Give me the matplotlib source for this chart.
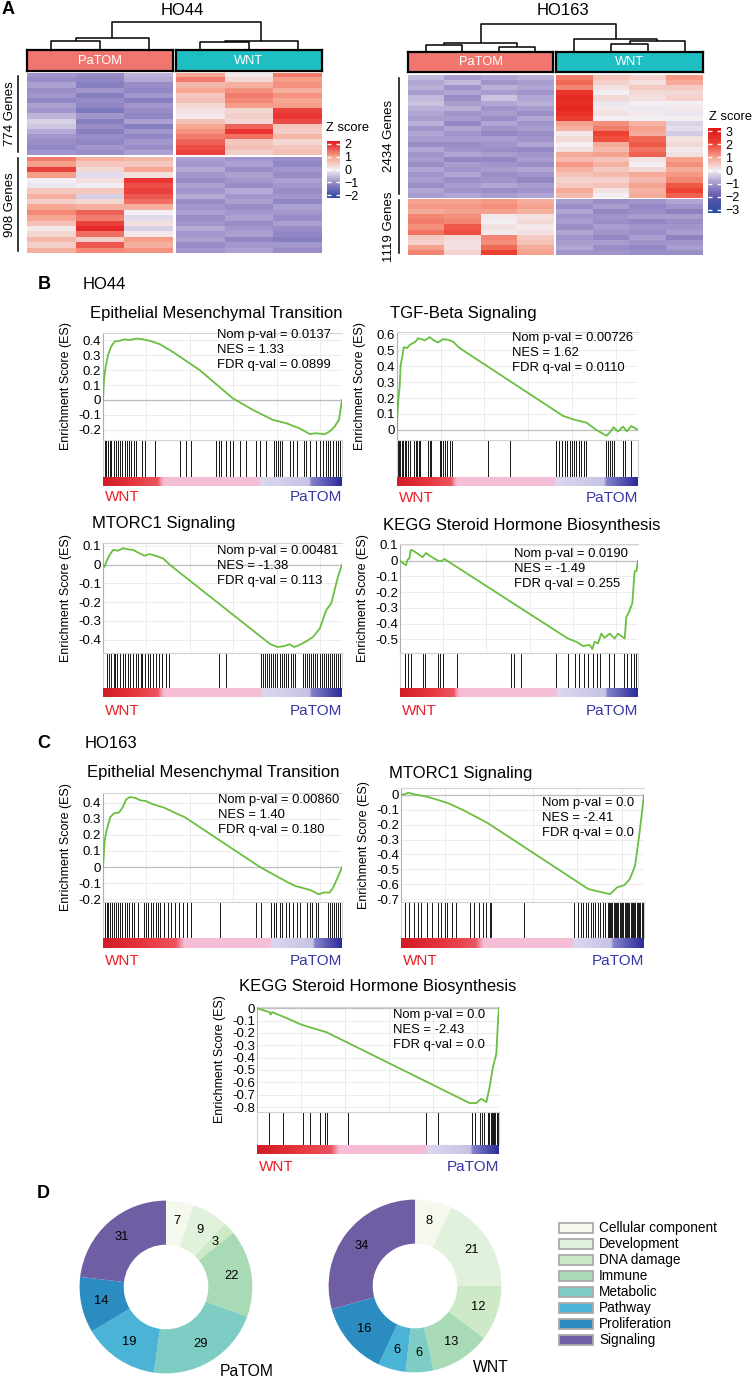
import numpy as np
import matplotlib.pyplot as plt
from matplotlib.colors import LinearSegmentedColormap, Normalize
from matplotlib.cm import ScalarMappable
from matplotlib.patches import Rectangle

plt.rcParams['font.family'] = ['Liberation Sans', 'DejaVu Sans']

# ---------------- A: heatmaps (z score per gene band, one list per sample) ----------------
ho44_genes = [774, 908]
ho44_up = [
    [-0.9, -1.0, -0.8, -1.0, -0.9, -1.1, -0.8, -0.9, -0.6, -0.3, -0.4, -0.7, -0.9, -1.0, -1.1, -0.9],
    [-1.0, -1.1, -1.2, -0.9, -1.2, -1.0, -1.1, -1.3, -0.9, -1.2, -1.0, -1.2, -1.0, -1.1, -0.9, -1.0],
    [-0.6, -0.7, -1.0, -1.1, -0.9, -1.2, -0.9, -1.0, -1.1, -0.8, -1.2, -0.9, -1.1, -0.9, -1.0, -0.8],
    [0.9, 1.3, 0.7, 0.9, 0.5, 0.6, 0.3, 0.2, 0.1, 0.6, 0.9, 1.1, 1.3, 1.5, 1.7, 1.8],
    [0.1, 0.3, 0.8, 1.1, 1.3, 1.2, 1.0, 0.3, 0.4, 0.3, 1.5, 1.9, 1.4, 0.5, 0.6, 0.4],
    [1.3, 1.0, 1.1, 0.8, 1.1, 0.9, 1.0, 1.8, 1.9, 1.7, 0.5, 0.4, 0.7, 0.3, 0.5, 0.6],
]
ho44_low = [
    [1.3, 1.0, 1.8, 1.0, 0.0, -0.1, 0.5, 0.8, 0.4, 0.9, 1.2, 0.9, 0.6, 0.1, 0.3, 0.7, 0.4, 0.8],
    [0.8, 0.5, 0.3, -0.2, 0.2, 0.0, 0.5, -0.3, 0.3, 0.8, 1.5, 1.3, 1.8, 2.0, 1.4, 0.4, 1.6, 1.2],
    [0.7, 0.5, 0.9, 0.2, 1.9, 1.7, 1.8, 1.6, 1.4, 0.8, 0.0, -0.2, 0.2, -0.3, 0.1, 1.0, 0.8, 1.1],
    [-0.8, -0.9, -0.7, -0.9, -1.0, -0.8, -0.9, -0.7, -1.0, -0.9, -0.8, -1.0, -0.9, -0.7, -0.9, -0.8, -1.0, -0.9],
    [-0.9, -0.8, -1.0, -0.8, -0.9, -1.0, -0.7, -0.9, -0.8, -1.0, -0.9, -0.8, -1.0, -0.9, -0.8, -1.1, -0.9, -0.8],
    [-1.0, -1.1, -0.9, -1.0, -0.8, -0.9, -1.0, -0.9, -1.1, -0.8, -0.9, -1.0, -0.8, -1.0, -1.1, -1.2, -0.9, -1.0],
]
ho163_genes = [2434, 1119]
ho163_up = [
    [-0.6, -0.8, -0.7, -0.9, -0.6, -0.5, -0.7, -0.8, -0.9, -0.7, -1.0, -0.8, -0.9, -1.1, -0.8, -1.0, -0.9, -1.1, -0.8, -1.0, -0.9, -1.1, -0.8, -0.9],
    [-0.9, -0.6, -1.0, -0.8, -1.1, -0.9, -0.7, -1.0, -0.9, -1.2, -0.8, -1.0, -0.9, -1.1, -1.0, -0.8, -1.2, -0.9, -1.0, -0.8, -1.1, -0.9, -1.0, -0.8],
    [-0.8, -1.0, -0.7, -0.9, -0.5, -0.8, -1.0, -0.9, -1.1, -0.8, -1.0, -1.2, -0.9, -1.0, -1.1, -0.9, -1.2, -1.0, -0.9, -1.1, -1.0, -0.8, -1.1, -0.9],
    [-0.7, -0.9, -0.8, -1.0, -0.8, -0.7, -0.9, -1.1, -0.8, -1.0, -0.9, -1.1, -1.0, -0.8, -1.2, -1.0, -0.9, -1.1, -0.8, -1.0, -1.2, -0.9, -1.0, -0.8],
    [1.4, 1.6, 1.3, 2.3, 2.6, 2.5, 2.7, 2.4, 2.2, 1.0, 0.8, 0.1, 0.3, 0.0, 0.2, 0.9, 0.7, 1.1, 0.8, 0.6, 0.4, 0.5, 0.9, 0.7],
    [0.6, 0.4, 0.2, 0.0, 0.3, -0.1, 0.1, 0.2, 0.0, 1.2, 1.4, 2.1, 1.9, 0.9, 0.7, 1.0, 0.6, 0.8, 0.5, 0.7, 0.4, 0.6, 0.2, 0.0],
    [0.4, 0.2, 0.5, 0.3, 0.2, 0.0, -0.1, 0.1, 0.0, 0.8, 1.0, 0.9, 1.6, 1.8, 1.5, 1.7, 0.2, 0.0, 0.3, 0.9, 0.7, 1.0, 0.8, 0.9],
    [1.1, 0.9, 0.5, 0.3, 0.4, 0.0, 0.1, -0.1, 0.0, -0.3, -0.2, -0.4, 0.2, 0.3, 0.1, 0.2, 1.0, 1.2, 0.9, 1.1, 1.3, 1.8, 2.0, 1.7],
]
ho163_low = [
    [1.0, 1.1, 0.9, 1.3, 1.4, 1.2, 1.5, 0.5, 0.4, 1.0, 1.3],
    [1.0, 1.1, 1.0, 1.2, 1.3, 1.8, 1.9, 0.3, 0.2, 0.2, 0.4],
    [1.1, 1.2, 1.0, 0.1, 0.0, 0.2, 0.1, 1.3, 1.2, 1.6, 2.1],
    [0.9, 1.0, 0.8, 0.2, 0.3, 0.1, 0.2, 0.5, 0.6, 0.9, 1.0],
    [-0.9, -1.1, -0.8, -1.0, -0.9, -1.1, -0.8, -1.0, -0.9, -0.8, -1.0],
    [-1.1, -0.9, -1.2, -1.0, -1.1, -0.9, -1.0, -1.2, -0.9, -1.1, -1.0],
    [-1.0, -1.2, -1.1, -0.9, -1.2, -1.0, -1.1, -0.9, -1.0, -1.2, -1.1],
    [-0.8, -1.0, -1.3, -0.9, -1.1, -1.0, -0.9, -1.3, -1.0, -0.9, -1.1],
]
# dendrogram merges (child a, child b, height in px)
ho44_links = [(0, 1, 9), (6, 2, 11.7), (3, 4, 7.7), (8, 5, 9.3), (7, 9, 28)]
ho163_links = [(0, 1, 6.7), (2, 3, 5), (8, 9, 9), (5, 6, 8.3), (11, 7, 11), (4, 12, 12.7), (10, 13, 28.3)]

# ---------------- B/C: GSEA running enrichment scores ----------------
emt44_rank = [0, .004, .011, .021, .035, .049, .07, .091, .112, .139, .167, .195, .237, .293, .404, .544, .628, .711, .767, .823, .865, .893, .927, .948, .969, .987, 1.0]
emt44_es = [0, .13, .22, .30, .36, .39, .395, .405, .40, .41, .405, .395, .373, .32, .20, .01, -.067, -.133, -.155, -.19, -.227, -.222, -.229, -.21, -.178, -.133, 0]
emt44_hits = [0, .007, .014, .021, .028, .035, .045, .053, .063, .07, .081, .091, .1, .109, .119, .128, .137, .165, .177, .216, .321, .349, .37, .474, .484, .495, .516, .53, .544, .572, .6, .642, .656, .683, .714, .725, .734, .742, .75, .781, .795, .812, .84, .851, .865, .893, .909, .921, .932, .941, .951, .962, .974, .983, .993, 1.0]
emt44_stats = ['Nom p-val = 0.0137', 'NES = 1.33', 'FDR q-val = 0.0899']

tgf44_rank = [0, .0014, .0055, .011, .015, .022, .028, .041, .053, .066, .077, .087, .101, .115, .136, .149, .17, .191, .212, .232, .26, .689, .73, .758, .786, .827, .869, .882, .899, .917, .938, .954, .972, 1.0]
tgf44_es = [0, .084, .188, .272, .408, .46, .519, .513, .533, .544, .554, .575, .569, .561, .582, .565, .548, .569, .565, .554, .513, .088, .067, .056, .046, 0, -.036, -.017, .017, -.01, .021, -.01, .025, 0]
tgf44_hits = [0, .004, .008, .014, .019, .025, .032, .039, .046, .053, .069, .077, .083, .091, .097, .128, .135, .142, .177, .184, .191, .2, .209, .218, .227, .378, .47, .661, .672, .686, .696, .705, .716, .726, .733, .744, .755, .765, .775, .783, .869, .876, .885, .894, .9, .938, .945, .972]
tgf44_stats = ['Nom p-val = 0.00726', 'NES = 1.62', 'FDR q-val = 0.0110']

mtorc44_rank = [0, .007, .014, .028, .042, .063, .084, .105, .126, .153, .174, .195, .223, .251, .279, .70, .73, .76, .78, .80, .82, .85, .879, .907, .934, .955, .969, .983, 1.0]
mtorc44_es = [0, -.011, .016, .052, .079, .075, .088, .082, .079, .061, .048, .057, .046, .034, 0, -.425, -.44, -.435, -.425, -.44, -.43, -.41, -.386, -.341, -.243, -.207, -.136, -.064, 0]
mtorc44_hits = [.015, .025, .035, .045, .052, .06, .072, .082, .092, .105, .115, .125, .138, .148, .158, .165, .175, .188, .198, .21, .222, .235, .248, .262, .275, .485, .515, .66, .668, .676, .686, .695, .704, .712, .72, .73, .74, .748, .757, .766, .776, .786, .796, .805, .835, .845, .855, .862, .87, .878, .888, .897, .906, .915, .924, .933, .942, .951, .96, .968, .976, .984, .992, 1.0]
mtorc44_stats = ['Nom p-val = 0.00481', 'NES = -1.38', 'FDR q-val = 0.113']

kegg44_rank = [0, .011, .025, .032, .039, .046, .06, .074, .095, .109, .123, .144, .158, .173, .187, .201, .705, .741, .769, .797, .808, .818, .832, .846, .86, .881, .902, .916, .944, .951, .962, .976, .986, .993, 1.0]
kegg44_es = [0, -.015, -.029, .006, .013, .069, .058, .044, .021, .048, .033, .013, 0, -.004, .01, -.004, -.494, -.515, -.542, -.535, -.56, -.515, -.525, -.463, -.49, -.463, -.494, -.463, -.494, -.358, -.327, -.271, -.067, -.067, 0]
kegg44_hits = [.02, .032, .045, .095, .105, .158, .168, .18, .24, .466, .48, .51, .654, .707, .737, .752, .774, .79, .81, .827, .842, .88, .9, .94, .955, .97, .985, .993]
kegg44_stats = ['Nom p-val = 0.0190', 'NES = -1.49', 'FDR q-val = 0.255']

emt163_rank = [0, .007, .015, .03, .045, .067, .082, .097, .112, .134, .157, .179, .209, .254, .284, .343, .657, .776, .806, .866, .903, .925, .948, .963, .978, .993, 1.0]
emt163_es = [0, .166, .227, .309, .333, .339, .37, .42, .435, .43, .414, .41, .39, .37, .349, .309, 0, -.097, -.118, -.142, -.169, -.158, -.158, -.128, -.077, -.026, 0]
emt163_hits = [0, .008, .015, .022, .03, .038, .045, .055, .062, .07, .08, .09, .1, .11, .12, .13, .145, .17, .18, .19, .2, .21, .22, .23, .24, .255, .27, .285, .3, .32, .335, .35, .37, .49, .64, .66, .705, .715, .725, .74, .75, .765, .78, .795, .81, .825, .855, .865, .875, .89, .9, .94, .95, .958, .966, .974, .982, .99, 1.0]
emt163_stats = ['Nom p-val = 0.00860', 'NES = 1.40', 'FDR q-val = 0.180']

mtorc163_rank = [0, .018, .032, .047, .069, .106, .151, .195, .254, .357, .771, .83, .86, .889, .919, .941, .963, .978, .993, 1.0]
mtorc163_es = [0, .007, .016, .007, 0, -.011, -.033, -.056, -.1, -.189, -.633, -.656, -.667, -.622, -.607, -.567, -.478, -.3, -.1, 0]
mtorc163_hits = [.018, .032, .055, .07, .084, .106, .128, .151, .166, .18, .188, .21, .225, .284, .299, .321, .336, .351, .365, .372, .505, .712, .73, .74, .75, .76, .77, .78, .79, .80, .81, .82, .83, .84, .85, .855, .86, .865, .87, .875, .88, .885, .89, .895, .9, .905, .91, .915, .92, .925, .93, .935, .94, .945, .95, .955, .96, .965, .97, .975, .98, .985, .99, .995, 1.0]
mtorc163_stats = ['Nom p-val = 0.0', 'NES = -2.41', 'FDR q-val = 0.0']

kegg163_rank = [0, .052, .056, .063, .107, .114, .176, .218, .287, .879, .906, .927, .948, .961, .975, .989, .996, 1.0]
kegg163_es = [0, -.032, -.051, -.032, -.067, -.073, -.127, -.154, -.194, -.768, -.768, -.733, -.76, -.639, -.477, -.369, -.1, 0]
kegg163_hits = [.05, .107, .19, .22, .26, .28, .29, .376, .70, .75, .89, .90, .92, .93, .94, .955, .96, .965, .97, .975, .98, .985, .99, .995]
kegg163_stats = ['Nom p-val = 0.0', 'NES = -2.43', 'FDR q-val = 0.0']

# ---------------- D: pathway categories ----------------
categories = ['Cellular component', 'Development', 'DNA damage', 'Immune', 'Metabolic', 'Pathway', 'Proliferation', 'Signaling']
patom_counts = [7, 9, 3, 22, 29, 19, 14, 31]
wnt_counts = [8, 21, 12, 13, 6, 6, 16, 34]
cat_colors = ['#f5f8ec', '#e0f1dc', '#cde9c6', '#a9dab6', '#7ecdc5', '#4bb3d6', '#2a8cc0', '#6f5ea3']

# ---------------- figure ----------------
W, H = 752, 1381
fig = plt.figure(figsize=(W / 100, H / 100), dpi=100)


def px_axes(x0, y0, x1, y1):
    return fig.add_axes([x0 / W, 1 - y1 / H, (x1 - x0) / W, (y1 - y0) / H])


ov = px_axes(0, 0, W, H)
ov.set_xlim(0, W)
ov.set_ylim(H, 0)
ov.axis('off')
ov.set_zorder(10)


def cmap_from(anchors):
    lo, hi = anchors[0][0], anchors[-1][0]
    cm = LinearSegmentedColormap.from_list('z', [((v - lo) / (hi - lo), c) for v, c in anchors])
    return cm, Normalize(lo, hi)


def heatmap(up, low, genes, xg, y0, y1, bar_y, anchors, ticks, cbox, zs_xy, links,
            gline_x, glab_x):
    up = np.array(up).T
    low = np.array(low).T
    cmap, norm = cmap_from(anchors)
    n = up.shape[1] // 2
    ysplit = y0 + (y1 - y0) * genes[0] / sum(genes)
    leaves = []
    for g, ((xa, xb), name, col) in enumerate(zip(xg, ['PaTOM', 'WNT'], ['#f1766f', '#1fbec3'])):
        for blk, (ya, yb) in ((up, (y0, ysplit - 0.5)), (low, (ysplit + 1, y1))):
            ax = px_axes(xa, ya, xb, yb)
            ax.imshow(blk[:, g * n:(g + 1) * n], aspect='auto', cmap=cmap, norm=norm,
                      interpolation='nearest')
            ax.set_axis_off()
        ab = px_axes(xa, bar_y[0], xb, bar_y[1])
        ab.set_facecolor(col)
        ab.set_xticks([])
        ab.set_yticks([])
        for s in ab.spines.values():
            s.set_linewidth(1.6)
        ab.text(0.5, 0.48, name, color='white', ha='center', va='center', fontsize=9.3,
                transform=ab.transAxes)
        leaves += list(xa + (np.arange(n) + 0.5) * (xb - xa) / n)
    # dendrogram
    pos = {i: (x, 0.0) for i, x in enumerate(leaves)}
    for k, (a, b, h) in enumerate(links):
        xa_, ha = pos[a]
        xb_, hb = pos[b]
        ov.plot([xa_, xa_, xb_, xb_], [bar_y[0] - ha, bar_y[0] - h, bar_y[0] - h, bar_y[0] - hb],
                color='black', lw=1.1, solid_capstyle='butt')
        pos[len(leaves) + k] = ((xa_ + xb_) / 2, h)
    # gene groups
    for (ya, yb), cnt in zip(((y0 + 3, ysplit - 4), (ysplit + 2, y1 - 2)), genes):
        ov.plot([gline_x, gline_x], [ya, yb], color='black', lw=1.1)
        ov.text(glab_x, (ya + yb) / 2, f'{cnt} Genes', rotation=90, ha='center', va='center',
                fontsize=9.5)
    # colour key
    cax = px_axes(*cbox)
    cb = fig.colorbar(ScalarMappable(norm, cmap), cax=cax, ticks=ticks)
    cb.outline.set_visible(False)
    cax.tick_params(direction='in', length=3, width=1, colors='white', labelcolor='black',
                    left=True, right=True, labelsize=9, pad=3)
    ov.text(zs_xy[0], zs_xy[1], 'Z score', ha='left', va='center', fontsize=9.3)


heatmap(ho44_up, ho44_low, ho44_genes, [(27, 173), (176, 322)], 73, 253, (50, 71),
        [(-2.2, '#2a46a0'), (-2, '#3a50a6'), (-1, '#9a8dc8'), (0, '#f3eff4'), (1, '#f6a08a'),
         (2, '#e8292a'), (2.2, '#e31a1c')],
        [-2, -1, 0, 1, 2], (327, 141, 340, 198), (326, 128), ho44_links, 18, 10)
heatmap(ho163_up, ho163_low, ho163_genes, [(408, 553), (556, 703)], 75, 255, (52, 72),
        [(-3.25, '#2a46a0'), (-3, '#3150a5'), (-2, '#6256ab'), (-1, '#a195cb'), (0, '#f3eff4'),
         (1, '#f6a490'), (2, '#ed4535'), (3, '#e31a1c'), (3.25, '#e01818')],
        [-3, -2, -1, 0, 1, 2, 3], (708, 128, 721, 213), (709, 117), ho163_links, 399, 389)
ov.text(182, 10, 'HO44', ha='center', va='center', fontsize=12)
ov.text(563, 10, 'HO163', ha='center', va='center', fontsize=12)

# ---------------- GSEA panels ----------------
grid_x = [0.1815, 0.363, 0.5445, 0.726, 0.9075]


def rank_bar(stops):
    r, p, l = stops
    nodes = [(0, '#d21b27'), (r * 0.5, '#e6353c'), (r * 0.93, '#ec5560'), (r, '#f3a2b8'),
             (r + 0.01, '#f6bdd6'), (p, '#f5bfd8'), (p + 0.01, '#dad8ef'), (l, '#c6c3e4'),
             (l + 0.01, '#8482c9'), (1, '#2b2b9b')]
    cm = LinearSegmentedColormap.from_list('rk', nodes)
    return cm(np.linspace(0, 1, 500))[None, :, :3]


gsea_sets = [
    dict(title='Epithelial Mesenchymal Transition', rank=emt44_rank, es=emt44_es, hits=emt44_hits,
         stats=emt44_stats, yticks=[0.4, 0.3, 0.2, 0.1, 0, -0.1, -0.2], bar=(.245, .655, .865),
         box=(103, 342, 333, 440, 477, 486, 497), ylim=(-0.267, 0.447), title_xy=(90, 313), stats_xy=(217, 335)),
    dict(title='TGF-Beta Signaling', rank=tgf44_rank, es=tgf44_es, hits=tgf44_hits,
         stats=tgf44_stats, yticks=[0.6, 0.5, 0.4, 0.3, 0.2, 0.1, 0], bar=(.239, .654, .862),
         box=(397, 638, 332, 440, 477, 486, 498), ylim=(-0.063, 0.614), title_xy=(390, 313), stats_xy=(512, 338)),
    dict(title='MTORC1 Signaling', rank=mtorc44_rank, es=mtorc44_es, hits=mtorc44_hits,
         stats=mtorc44_stats, yticks=[0.1, 0, -0.1, -0.2, -0.3, -0.4], bar=(.246, .66, .866),
         box=(103, 342, 543, 653, 688, 697, 711), ylim=(-0.472, 0.116), title_xy=(92, 523), stats_xy=(217, 551)),
    dict(title='KEGG Steroid Hormone Biosynthesis', rank=kegg44_rank, es=kegg44_es, hits=kegg44_hits,
         stats=kegg44_stats, yticks=[0.1, 0, -0.1, -0.2, -0.3, -0.4, -0.5], bar=(.24, .654, .865),
         box=(400, 638, 544, 653, 688, 697, 711), ylim=(-0.586, 0.105), title_xy=(383, 525), stats_xy=(514, 554)),
    dict(title='Epithelial Mesenchymal Transition', rank=emt163_rank, es=emt163_es, hits=emt163_hits,
         stats=emt163_stats, yticks=[0.4, 0.3, 0.2, 0.1, 0, -0.1, -0.2], bar=(.33, .70, .88),
         box=(103, 342, 793, 902, 938, 948, 961), ylim=(-0.217, 0.46), title_xy=(87, 772), stats_xy=(218, 800)),
    dict(title='MTORC1 Signaling', rank=mtorc163_rank, es=mtorc163_es, hits=mtorc163_hits,
         stats=mtorc163_stats, yticks=[0, -0.1, -0.2, -0.3, -0.4, -0.5, -0.6, -0.7], bar=(.33, .705, .867),
         box=(401, 644, 788, 902, 938, 948, 961), ylim=(-0.72, 0.047), title_xy=(389, 773), stats_xy=(542, 803)),
    dict(title='KEGG Steroid Hormone Biosynthesis', rank=kegg163_rank, es=kegg163_es, hits=kegg163_hits,
         stats=kegg163_stats, yticks=[0, -0.1, -0.2, -0.3, -0.4, -0.5, -0.6, -0.7, -0.8], bar=(.33, .70, .884),
         box=(257, 499, 1007, 1112, 1145, 1154, 1167), ylim=(-0.84, 0.01), title_xy=(239, 986), stats_xy=(393, 1015)),
]

for g in gsea_sets:
    x0, x1, yt, ye, yh, yb, yl = g['box']
    ax = px_axes(x0, yt, x1, ye)
    ax.plot(g['rank'], g['es'], color='#6abf40', lw=1.3, zorder=3)
    ax.set_xlim(0, 1)
    ax.set_ylim(*g['ylim'])
    ax.set_yticks(g['yticks'])
    ax.set_yticklabels(['0' if abs(v) < 1e-9 else f'{v:.1f}' for v in g['yticks']])
    ax.set_xticks(grid_x)
    ax.tick_params(axis='x', length=0, labelbottom=False)
    ax.tick_params(axis='y', length=0, labelsize=9.5, pad=1.5)
    ax.grid(True, color='#ececec', lw=0.7)
    ax.axhline(0, color='#bdbdbd', lw=0.9, zorder=2)
    for s in ('right', 'bottom'):
        ax.spines[s].set_visible(False)
    ax.spines['top'].set_color('#d4d4d4')
    ax.spines['left'].set_color('#b0b0b0')
    ax.set_ylabel('Enrichment Score (ES)', fontsize=9)
    ax.yaxis.set_label_coords(-31 / (x1 - x0), 0.5)

    hx = px_axes(x0, ye, x1, yh)
    hx.vlines(g['hits'], 0, 1, color='#151515', lw=0.7)
    hx.set_xlim(0, 1)
    hx.set_ylim(0, 1)
    hx.set_xticks([])
    hx.set_yticks([])
    for s in hx.spines.values():
        s.set_color('#d0d0d0')
        s.set_linewidth(0.8)

    bx = px_axes(x0, yh, x1, yb)
    bx.imshow(rank_bar(g['bar']), aspect='auto', extent=(0, 1, 0, 1))
    bx.set_axis_off()

    ov.text(x0 + 2, yl, 'WNT', color='#e8202a', fontsize=11, ha='left', va='center')
    ov.text(x1, yl, 'PaTOM', color='#3636a6', fontsize=11, ha='right', va='center')
    ov.text(g['title_xy'][0], g['title_xy'][1], g['title'], fontsize=12, ha='left', va='center')
    sx, sy = g['stats_xy']
    for i, s in enumerate(g['stats']):
        ov.text(sx, sy + 15 * i, s, fontsize=9.4, ha='left', va='center')

# ---------------- D: donuts ----------------
for vals, (cx, cy), name, (nx, ny) in ((patom_counts, (166, 1287), 'PaTOM', (220, 1372)),
                                       (wnt_counts, (415, 1286), 'WNT', (473, 1368))):
    ax = px_axes(cx - 90, cy - 90, cx + 90, cy + 90)
    wedges, _ = ax.pie(vals, colors=cat_colors, startangle=90, counterclock=False, radius=0.96,
                       wedgeprops=dict(width=0.49, linewidth=0))
    for w, v in zip(wedges, vals):
        ang = np.deg2rad((w.theta1 + w.theta2) / 2)
        ax.text(0.74 * np.cos(ang), 0.74 * np.sin(ang), str(v), ha='center', va='center', fontsize=9.3)
    ax.set_xlim(-1, 1)
    ax.set_ylim(-1, 1)
    ov.text(nx, ny, name, ha='left', va='center', fontsize=11.3)

for i, (lab, col) in enumerate(zip(categories, cat_colors)):
    yc = 1228 + 16 * i
    ov.add_patch(Rectangle((559, yc - 5), 34, 10, facecolor=col, edgecolor='#ababab', lw=1.3))
    ov.text(599, yc, lab, ha='left', va='center', fontsize=9.8)

# panel letters
for lab, x, y in (('A', 2, 9), ('B', 38, 284), ('C', 37, 743), ('D', 37, 1193)):
    ov.text(x, y, lab, ha='left', va='center', fontsize=13, fontweight='bold')
ov.text(83, 284, 'HO44', ha='left', va='center', fontsize=12)
ov.text(85, 743, 'HO163', ha='left', va='center', fontsize=12)

fig.savefig('out.png', dpi=100)
